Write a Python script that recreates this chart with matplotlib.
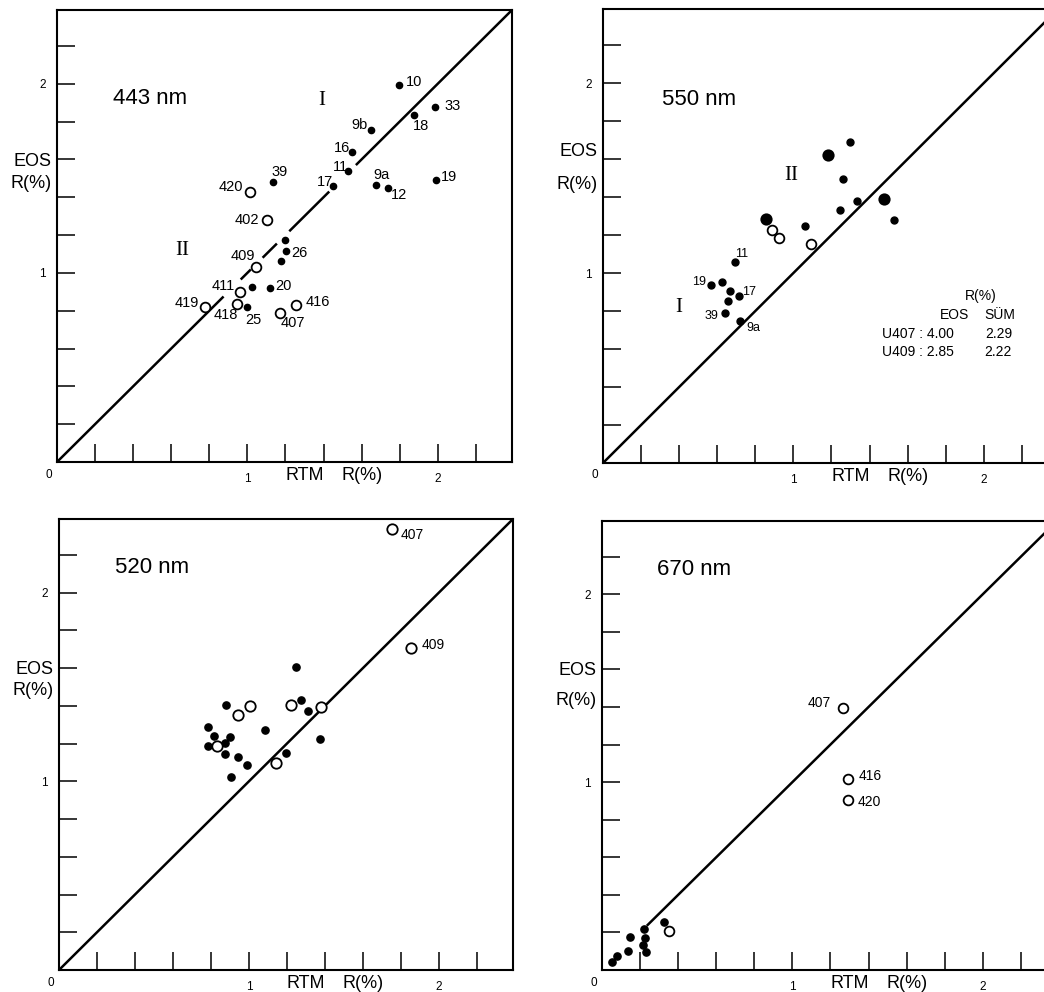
import numpy as np
import matplotlib.pyplot as plt

plt.rcParams['font.family'] = ['Liberation Sans', 'DejaVu Sans']

# ---- 443 nm ----
f443_x = [1.795, 1.988, 1.877, 1.649, 1.549, 1.526, 1.449, 1.674, 1.737, 1.991, 1.132,
          1.196, 1.202, 1.175, 1.119, 1.026, 1.000]
f443_y = [1.995, 1.875, 1.837, 1.754, 1.637, 1.539, 1.461, 1.465, 1.447, 1.491, 1.482,
          1.175, 1.114, 1.061, 0.921, 0.925, 0.819]
f443_lab = ['10', '33', '18', '9b', '16', '11', '17', '9a', '12', '19', '39',
            '', '26', '', '20', '', '25']
o443_x = [1.014, 1.105, 1.047, 0.961, 0.947, 0.775, 1.172, 1.258]
o443_y = [1.426, 1.277, 1.032, 0.900, 0.837, 0.819, 0.786, 0.830]
o443_lab = ['420', '402', '409', '411', '418', '419', '407', '416']

# ---- 550 nm ----
f550_x = [1.295, 1.260, 1.332, 1.246, 1.526, 1.061, 0.693, 0.565, 0.626, 0.665, 0.714,
          0.654, 0.642, 0.718]
f550_y = [1.689, 1.495, 1.379, 1.333, 1.277, 1.246, 1.056, 0.937, 0.954, 0.904, 0.877,
          0.851, 0.789, 0.746]
f550_lab = ['', '', '', '', '', '', '11', '19', '', '', '17', '', '39', '9a']
big550_x = [1.181, 1.477, 0.854]
big550_y = [1.621, 1.391, 1.286]
o550_x = [0.888, 0.925, 1.095]
o550_y = [1.228, 1.182, 1.154]
tab_rows = ['U407', 'U409']
tab_eos = ['4.00', '2.85']
tab_sum = ['2.29', '2.22']

# ---- 520 nm ----
f520_x = [1.250, 1.274, 1.311, 1.372, 1.194, 1.087, 0.879, 0.783, 0.816, 0.787, 0.900,
          0.874, 0.872, 0.941, 0.991, 0.906]
f520_y = [1.607, 1.429, 1.375, 1.224, 1.148, 1.272, 1.402, 1.286, 1.242, 1.189, 1.235,
          1.205, 1.144, 1.128, 1.085, 1.023]
o520_x = [1.752, 1.851, 0.941, 1.005, 1.222, 1.381, 0.834, 1.140]
o520_y = [2.336, 1.708, 1.349, 1.397, 1.402, 1.393, 1.185, 1.098]
o520_lab = ['407', '409', '', '', '', '', '', '']

# ---- 670 nm ----
f670_x = [0.051, 0.077, 0.134, 0.148, 0.218, 0.227, 0.214, 0.232, 0.327]
f670_y = [0.044, 0.077, 0.103, 0.173, 0.217, 0.169, 0.133, 0.098, 0.258]
o670_x = [0.353, 1.265, 1.290, 1.290]
o670_y = [0.208, 1.393, 1.018, 0.904]
o670_lab = ['', '407', '416', '420']

# label offsets in points (dx, dy)
off443 = {'10': (11, 2), '33': (12, 1), '18': (5, -8), '9b': (-8, 4), '16': (-7, 3),
          '11': (-5, 3), '17': (-6, 3), '9a': (4, 7), '12': (8, -5), '19': (9, 2),
          '39': (5, 7), '26': (10, -1), '20': (10, 1), '25': (4, -9),
          '420': (-14, 4), '402': (-15, 0), '409': (-10, 8), '411': (-12, 4),
          '418': (-8, -8), '419': (-13, 3), '407': (9, -7), '416': (15, 2)}
off550 = {'11': (5, 6), '19': (-8, 2), '17': (7, 3), '39': (-10, -2), '9a': (10, -5)}
off520 = {'407': (15, -4), '409': (16, 2)}
off670 = {'407': (-17, 4), '416': (16, 2), '420': (16, -1)}

LIM = 2.39
W, H = 1044, 992
fig = plt.figure(figsize=(W / 100, H / 100), dpi=100)


def frame(px_left, px_top, px_w, px_h):
    ax = fig.add_axes([px_left / W, 1 - (px_top + px_h) / H, px_w / W, px_h / H])
    ax.set_xlim(0, LIM)
    ax.set_ylim(0, LIM)
    ticks = np.arange(0.2, 2.21, 0.2)
    lbls = ['1' if abs(t - 1) < 1e-6 else '2' if abs(t - 2) < 1e-6 else '' for t in ticks]
    ax.set_xticks(ticks)
    ax.set_xticklabels(lbls)
    ax.set_yticks(ticks)
    ax.set_yticklabels(lbls)
    ax.tick_params(direction='in', length=13, width=1.1, labelsize=8.5, pad=8)
    for s in ax.spines.values():
        s.set_linewidth(1.5)
    ax.annotate('0', (0, 0), xycoords='axes fraction', xytext=(-6, -9),
                textcoords='offset points', ha='center', va='center', fontsize=8.5)
    for xx, s in [(1.30, 'RTM'), (1.60, 'R(%)')]:
        ax.annotate(s, (xx, 0), xycoords=('data', 'axes fraction'), xytext=(0, -10),
                    textcoords='offset points', ha='center', va='center', fontsize=13)
    return ax


def ylabel(ax, y_eos, y_r):
    for yy, s in [(y_eos, 'EOS'), (y_r, 'R(%)')]:
        ax.annotate(s, (0, yy), xycoords=('axes fraction', 'data'), xytext=(-4, 0),
                    textcoords='offset points', ha='right', va='center', fontsize=13)


def tag(ax, xs, ys, labs, offs, size):
    for x, y, s in zip(xs, ys, labs):
        if s:
            ax.annotate(s, (x, y), xytext=offs[s], textcoords='offset points',
                        ha='center', va='center', fontsize=size)


def dots(ax, fx, fy, ox, oy, fs=4.8, os_=7):
    ax.plot(fx, fy, 'o', color='black', ms=fs, ls='none', zorder=3)
    ax.plot(ox, oy, 'o', mfc='white', mec='black', mew=1.3, ms=os_, ls='none', zorder=3)


roman = dict(family=['Liberation Serif', 'DejaVu Serif'], fontsize=15, ha='center',
             va='center')

# 443 nm, diagonal interrupted around the station labels
ax1 = frame(57, 10, 455, 452)
for a, b in [(0, 0.875), (0.965, 1.018), (1.08, 1.155), (1.22, 1.43), (1.57, LIM)]:
    ax1.plot([a, b], [a, b], color='black', lw=1.8, solid_capstyle='butt')
dots(ax1, f443_x, f443_y, o443_x, o443_y, fs=4.5, os_=7)
tag(ax1, f443_x, f443_y, f443_lab, off443, 10.5)
tag(ax1, o443_x, o443_y, o443_lab, off443, 10.5)
ax1.text(0.295, 1.92, '443 nm', fontsize=16, va='center')
ax1.text(1.39, 1.914, 'I', **roman)
ax1.text(0.66, 1.116, 'II', **roman)
ylabel(ax1, 1.59, 1.47)

# 550 nm
ax2 = frame(603, 9, 455, 454)
ax2.plot([0, LIM], [0, LIM], color='black', lw=1.8)
dots(ax2, f550_x, f550_y, o550_x, o550_y, fs=5, os_=7)
ax2.plot(big550_x, big550_y, 'o', color='black', ms=7.5, mew=1.3, ls='none', zorder=3)
tag(ax2, f550_x, f550_y, f550_lab, off550, 9)
ax2.text(0.31, 1.916, '550 nm', fontsize=16, va='center')
ax2.text(0.99, 1.512, 'II', **roman)
ax2.text(0.40, 0.816, 'I', **roman)
ylabel(ax2, 1.64, 1.465)
ax2.text(1.986, 0.88, 'R(%)', fontsize=10, ha='center', va='center')
ax2.text(1.846, 0.78, 'EOS', fontsize=10, ha='center', va='center')
ax2.text(2.082, 0.78, 'SÜM', fontsize=10, ha='center', va='center')
for i, yy in enumerate([0.679, 0.582]):
    ax2.text(1.468, yy, f'{tab_rows[i]} : {tab_eos[i]}', fontsize=10, ha='left', va='center')
    ax2.text(2.077, yy, tab_sum[i], fontsize=10, ha='center', va='center')

# 520 nm
ax3 = frame(59, 519, 454, 451)
ax3.plot([0, LIM], [0, LIM], color='black', lw=1.8)
dots(ax3, f520_x, f520_y, o520_x, o520_y, fs=5.2, os_=7.5)
tag(ax3, o520_x, o520_y, o520_lab, off520, 10)
ax3.text(0.293, 2.134, '520 nm', fontsize=16, va='center')
ylabel(ax3, 1.595, 1.483)

# 670 nm
ax4 = frame(602, 521, 455, 449)
ax4.plot([0.24, LIM], [0.24, LIM], color='black', lw=1.8)
dots(ax4, f670_x, f670_y, o670_x, o670_y, fs=5.2, os_=7)
tag(ax4, o670_x, o670_y, o670_lab, off670, 10)
ax4.text(0.288, 2.13, '670 nm', fontsize=16, va='center')
ylabel(ax4, 1.593, 1.435)

fig.savefig('out.png', dpi=100)
